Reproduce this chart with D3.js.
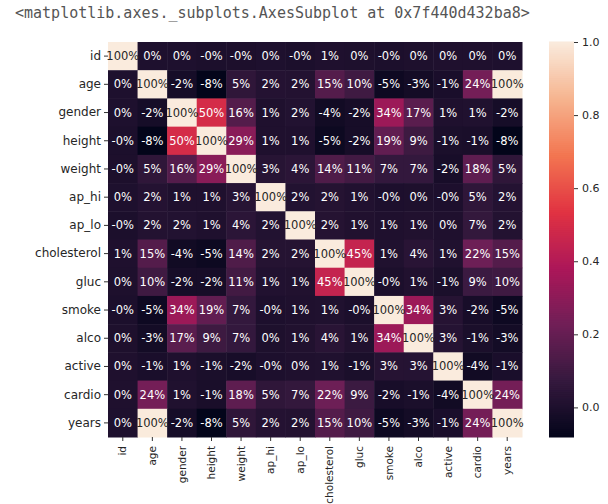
<!DOCTYPE html>
<html>
<head>
<meta charset="utf-8">
<script src="https://cdn.jsdelivr.net/npm/d3@7"></script>
<style>
	body { margin: 0; background: #fff; }
	svg text { font-family: "DejaVu Sans", sans-serif; }
</style>
</head>
<body>
<div class="graph"></div>
<script>
var header = "<matplotlib.axes._subplots.AxesSubplot at 0x7f440d432ba8>";

var labels = ["id", "age", "gender", "height", "weight", "ap_hi", "ap_lo",
	"cholesterol", "gluc", "smoke", "alco", "active", "cardio", "years"];

// correlation matrix, rows/cols in the order of labels
var corr = [
	[ 1,      0.003,  0.003, -0.003, -0.002,  0.003, -0.003,  0.006,  0.002, -0.003,  0.001,  0.004,  0.004,  0.003],
	[ 0.003,  1,     -0.023, -0.081,  0.054,  0.021,  0.018,  0.154,  0.099, -0.048, -0.030, -0.010,  0.238,  0.999],
	[ 0.003, -0.023,  1,      0.499,  0.155,  0.006,  0.016, -0.036, -0.020,  0.338,  0.171,  0.006,  0.008, -0.023],
	[-0.003, -0.081,  0.499,  1,      0.291,  0.006,  0.006, -0.050, -0.019,  0.188,  0.094, -0.007, -0.011, -0.081],
	[-0.002,  0.054,  0.155,  0.291,  1,      0.031,  0.044,  0.142,  0.107,  0.068,  0.067, -0.017,  0.182,  0.054],
	[ 0.003,  0.021,  0.006,  0.006,  0.031,  1,      0.016,  0.024,  0.012, -0.001,  0.001, -0.001,  0.054,  0.021],
	[-0.003,  0.018,  0.016,  0.006,  0.044,  0.016,  1,      0.024,  0.011,  0.006,  0.011,  0.004,  0.066,  0.018],
	[ 0.006,  0.154, -0.036, -0.050,  0.142,  0.024,  0.024,  1,      0.452,  0.010,  0.036,  0.010,  0.221,  0.154],
	[ 0.002,  0.099, -0.020, -0.019,  0.107,  0.012,  0.011,  0.452,  1,     -0.004,  0.011, -0.007,  0.089,  0.099],
	[-0.003, -0.048,  0.338,  0.188,  0.068, -0.001,  0.006,  0.010, -0.004,  1,      0.340,  0.026, -0.016, -0.048],
	[ 0.001, -0.030,  0.171,  0.094,  0.067,  0.001,  0.011,  0.036,  0.011,  0.340,  1,      0.025, -0.007, -0.030],
	[ 0.004, -0.010,  0.006, -0.007, -0.017, -0.001,  0.004,  0.010, -0.007,  0.026,  0.025,  1,     -0.036, -0.010],
	[ 0.004,  0.238,  0.008, -0.011,  0.182,  0.054,  0.066,  0.221,  0.089, -0.016, -0.007, -0.036,  1,      0.238],
	[ 0.003,  0.999, -0.023, -0.081,  0.054,  0.021,  0.018,  0.154,  0.099, -0.048, -0.030, -0.010,  0.238,  1]
];

var colorTicks = [0, 0.2, 0.4, 0.6, 0.8, 1.0];

// seaborn "rocket" colormap stops
var rocketStops = [0, 1/7, 2/7, 3/7, 4/7, 5/7, 6/7, 1];
var rocketColors = ["#03051a", "#35193e", "#701f57", "#ad1759", "#e13342", "#f37651", "#f6b48f", "#faebdd"];

const WIDTH = 608;
const HEIGHT = 504;
const LEFT = 108, RIGHT = 522, TOP = 42, BOTTOM = 437;
const CB_LEFT = 549, CB_RIGHT = 574;

var cells = [];
corr.forEach(function(row, i) {
	row.forEach(function(v, j) { cells.push({row: i, col: j, value: v}); });
});

var vmin = d3.min(cells, function(d) { return d.value; });
var vmax = d3.max(cells, function(d) { return d.value; });

var rocket = d3.scaleLinear().domain(rocketStops).range(rocketColors);
var color = function(v) { return rocket((v - vmin) / (vmax - vmin)); };

var locale = d3.formatLocale({decimal: ".", thousands: ",", grouping: [3], currency: ["", ""], minus: "-"});
var pct = locale.format(".0%");
// python keeps the sign on values that round to zero ("-0%")
var fmt = function(v) {
	var s = pct(v);
	return (v < 0 && s.charAt(0) !== "-") ? "-" + s : s;
};
var cbFmt = locale.format(".1f");

var luminance = function(c) {
	var rgb = d3.rgb(c);
	var lin = function(x) {
		x = x / 255;
		return x <= 0.03928 ? x / 12.92 : Math.pow((x + 0.055) / 1.055, 2.4);
	};
	return 0.2126 * lin(rgb.r) + 0.7152 * lin(rgb.g) + 0.0722 * lin(rgb.b);
};

var xScale = d3.scaleBand().domain(labels).range([LEFT, RIGHT]);
var yScale = d3.scaleBand().domain(labels).range([TOP, BOTTOM]);

var svg = d3.select(".graph").append("svg")
	.attr("width", WIDTH)
	.attr("height", HEIGHT);

svg.append("text")
	.attr("x", 15)
	.attr("y", 18)
	.attr("fill", "#555")
	.style("font-family", "'DejaVu Sans Mono', monospace")
	.style("font-size", "15px")
	.text(header);

// cells
svg.append("g").selectAll("rect").data(cells).enter().append("rect")
	.attr("x", function(d) { return xScale(labels[d.col]); })
	.attr("y", function(d) { return yScale(labels[d.row]); })
	.attr("width", xScale.bandwidth() + 0.5)
	.attr("height", yScale.bandwidth() + 0.5)
	.attr("fill", function(d) { return color(d.value); });

// annotations
svg.append("g").selectAll("text").data(cells).enter().append("text")
	.attr("x", function(d) { return xScale(labels[d.col]) + xScale.bandwidth() / 2; })
	.attr("y", function(d) { return yScale(labels[d.row]) + yScale.bandwidth() / 2; })
	.attr("text-anchor", "middle")
	.attr("dominant-baseline", "central")
	.style("font-size", "11.5px")
	.attr("fill", function(d) { return luminance(color(d.value)) > 0.408 ? "#262626" : "#ffffff"; })
	.text(function(d) { return fmt(d.value); });

// axes
var xAxis = d3.axisBottom(xScale).tickSize(4).tickPadding(3);
var gx = svg.append("g")
	.attr("transform", "translate(0," + BOTTOM + ")")
	.call(xAxis);
gx.select(".domain").remove();
gx.selectAll(".tick line").attr("stroke", "#333");
gx.selectAll(".tick text")
	.attr("transform", "rotate(-90)")
	.attr("x", -9)
	.attr("y", 0)
	.attr("dy", "0.35em")
	.attr("text-anchor", "end")
	.attr("fill", "#262626")
	.style("font-size", "10.5px");

var yAxis = d3.axisLeft(yScale).tickSize(4).tickPadding(3);
var gy = svg.append("g")
	.attr("transform", "translate(" + LEFT + ",0)")
	.call(yAxis);
gy.select(".domain").remove();
gy.selectAll(".tick line").attr("stroke", "#333");
gy.selectAll(".tick text")
	.attr("fill", "#262626")
	.style("font-size", "12px");

// colorbar
var cbScale = d3.scaleLinear().domain([vmin, vmax]).range([BOTTOM, TOP]);
var steps = d3.range(200).map(function(i) { return vmin + (vmax - vmin) * i / 200; });
var stepH = (BOTTOM - TOP) / 200;
svg.append("g").selectAll("rect").data(steps).enter().append("rect")
	.attr("x", CB_LEFT)
	.attr("width", CB_RIGHT - CB_LEFT)
	.attr("y", function(d) { return cbScale(d) - stepH - 0.5; })
	.attr("height", stepH + 1)
	.attr("fill", function(d) { return color(d + (vmax - vmin) / 400); });

var cbAxis = d3.axisRight(cbScale).tickValues(colorTicks).tickFormat(cbFmt).tickSize(4).tickPadding(4);
var gc = svg.append("g")
	.attr("transform", "translate(" + CB_RIGHT + ",0)")
	.call(cbAxis);
gc.select(".domain").remove();
gc.selectAll(".tick line").attr("stroke", "#333");
gc.selectAll(".tick text")
	.attr("fill", "#262626")
	.style("font-size", "11px");
</script>
</body>
</html>
